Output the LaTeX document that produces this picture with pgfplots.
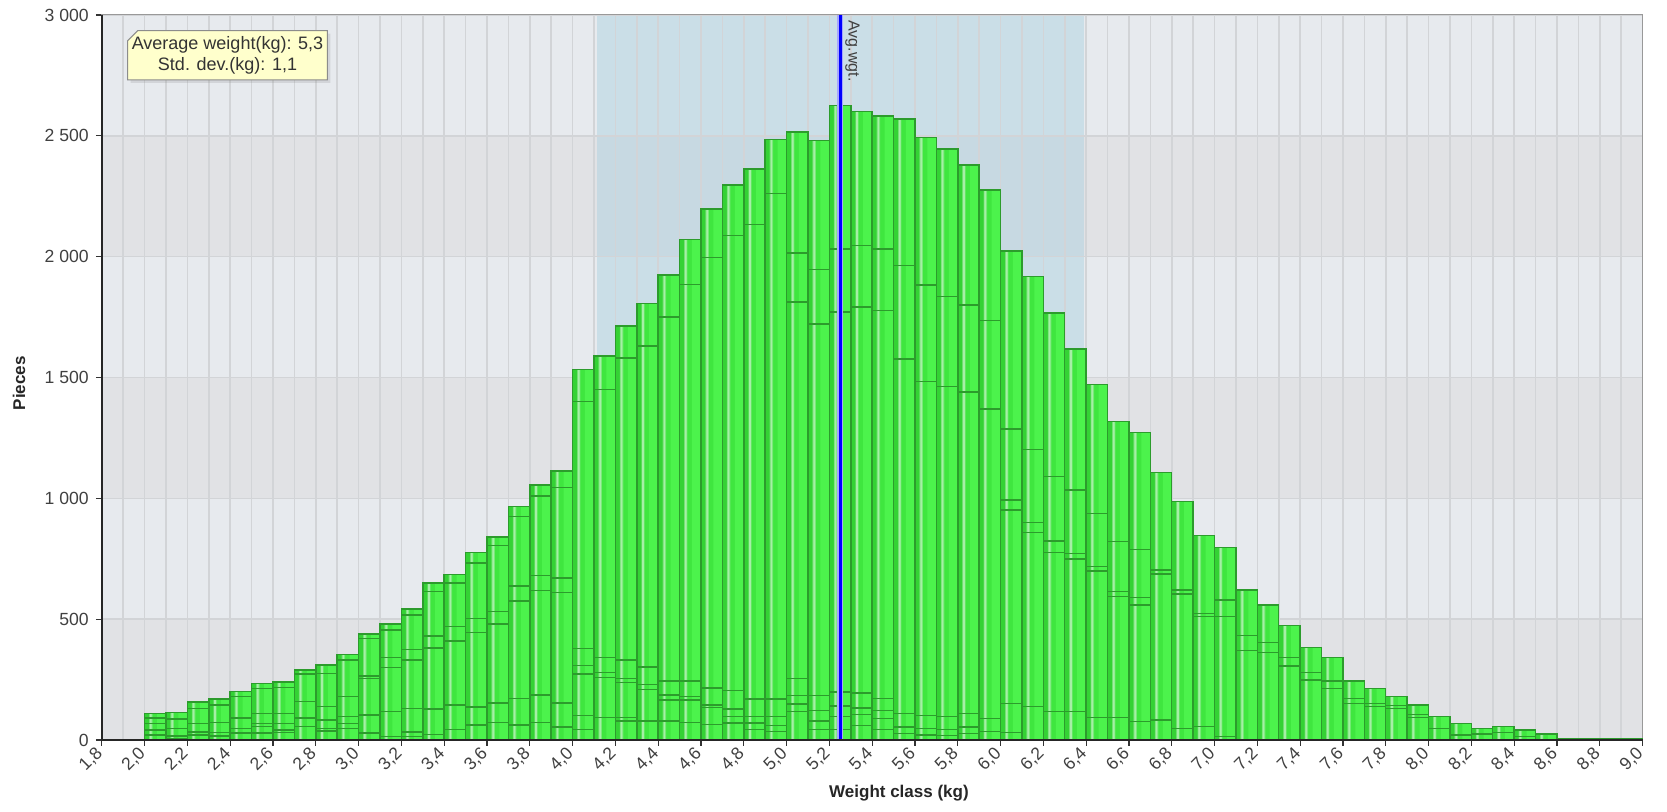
\documentclass[border=0pt]{standalone}
\usepackage{fontspec}
\setmainfont{Liberation Sans}
\usepackage{pgfplots}
\pgfplotsset{compat=1.18}
\usepackage{pgfplotstable}
\usetikzlibrary{shadows}

\definecolor{gA}{HTML}{34D234}
\definecolor{gB}{HTML}{3FE63F}
\definecolor{gL}{HTML}{A6EFA6}
\definecolor{gC}{HTML}{4CF34C}
\definecolor{edgeg}{HTML}{2C9C2C}
\definecolor{bandL}{HTML}{E7EAEE}
\definecolor{bandD}{HTML}{E1E2E5}
\definecolor{stdblue}{HTML}{A8D0E0}
\definecolor{gridc}{HTML}{D2D4D7}
\definecolor{boxyel}{HTML}{FFFFCC}

% cumulative segment boundaries of each weight class (bar from x-0.05 to x+0.05)
\pgfplotstableread{
x c1 c2 c3 c4 c5 c6 c7
1.95 3 3 3 3 3 3 3
2.05 21 41 69 90 110 110 110
2.15 7 17 48 86 114 114 114
2.25 21 34 69 131 157 157 157
2.35 17 30 73 145 170 170 170
2.45 28 48 90 179 200 200 200
2.55 28 55 69 110 214 234 234
2.65 30 41 69 110 218 241 241
2.75 55 90 159 273 290 290 290
2.85 37 48 83 138 276 310 310
2.95 48 69 97 179 331 354 354
3.05 28 103 255 265 421 439 439
3.15 14 117 301 341 455 480 480
3.25 14 34 131 331 375 517 543
3.35 22 129 381 431 615 649 649
3.45 43 144 409 470 649 685 685
3.55 62 136 445 503 733 776 776
3.65 72 154 481 532 805 841 841
3.75 62 172 575 637 924 966 966
3.85 72 187 618 680 1010 1056 1056
3.95 53 154 611 671 1045 1114 1114
4.05 43 101 273 309 378 1401 1533
4.15 93 259 280 341 1451 1588 1588
4.25 79 93 237 254 330 1580 1714
4.35 79 208 230 302 1631 1807 1807
4.45 79 165 187 244 1750 1925 1925
4.55 72 165 180 244 1885 2072 2072
4.65 65 134 144 216 1997 2198 2198
4.75 70 97 128 205 2087 2297 2297
4.85 44 70 97 170 2134 2362 2362
4.95 35 61 97 170 2262 2485 2485
5.05 118 149 184 255 1813 2016 2515
5.15 44 79 123 184 1721 1946 2480
5.25 44 97 140 198 1771 2032 2626
5.35 61 105 132 195 1792 2046 2600
5.45 44 88 123 172 1778 2032 2582
5.55 26 53 109 1576 1964 2570 2570
5.65 21 47 102 1484 1883 2494 2494
5.75 18 44 97 1463 1836 2445 2445
5.85 26 53 109 1440 1800 2380 2380
5.95 35 88 1370 1735 2275 2275 2275
6.05 30 152 952 993 1287 2023 2023
6.15 138 859 899 1203 1917 1917 1917
6.25 117 776 823 1090 1766 1766 1766
6.35 117 748 772 1034 1618 1618 1618
6.45 94 699 717 938 1472 1472 1472
6.55 94 593 614 821 1317 1317 1317
6.65 76 559 590 789 1273 1273 1273
6.75 83 686 703 1106 1106 1106 1106
6.85 48 604 621 986 986 986 986
6.95 55 510 524 846 846 846 846
7.05 14 510 579 797 797 797 797
7.15 370 432 621 621 621 621 621
7.25 363 404 559 559 559 559 559
7.35 306 342 473 473 473 473 473
7.45 248 279 383 383 383 383 383
7.55 214 244 342 342 342 342 342
7.65 152 172 244 244 244 244 244
7.75 138 152 214 214 214 214 214
7.85 131 142 179 179 179 179 179
7.95 94 106 145 145 145 145 145
8.05 48 97 97 97 97 97 97
8.15 21 69 69 69 69 69 69
8.25 25 48 48 48 48 48 48
8.35 32 55 55 55 55 55 55
8.45 14 41 41 41 41 41 41
8.55 25 25 25 25 25 25 25
8.65 5 5 5 5 5 5 5
8.75 4 4 4 4 4 4 4
8.85 7 7 7 7 7 7 7
8.95 7 7 7 7 7 7 7
}\weightdata

\pgfplotsset{
  fillbar/.style={ybar, bar shift=0pt, draw=none},
  segline/.style={ybar, bar shift=0pt, bar width=0.1, draw=edgeg, fill=none, line width=0.75pt},
}

\begin{document}
\begin{tikzpicture}
\begin{axis}[
  set layers,
  scale only axis,
  width=770.35pt, height=362.5pt,
  xmin=1.8, xmax=9.0, ymin=0, ymax=3000,
  xtick={1.8,2.0,2.2,2.4,2.6,2.8,3.0,3.2,3.4,3.6,3.8,4.0,4.2,4.4,4.6,4.8,5.0,5.2,5.4,5.6,5.8,6.0,6.2,6.4,6.6,6.8,7.0,7.2,7.4,7.6,7.8,8.0,8.2,8.4,8.6,8.8,9.0},
  xticklabels={{1,8},{2,0},{2,2},{2,4},{2,6},{2,8},{3,0},{3,2},{3,4},{3,6},{3,8},{4,0},{4,2},{4,4},{4,6},{4,8},{5,0},{5,2},{5,4},{5,6},{5,8},{6,0},{6,2},{6,4},{6,6},{6,8},{7,0},{7,2},{7,4},{7,6},{7,8},{8,0},{8,2},{8,4},{8,6},{8,8},{9,0}},
  minor xtick={1.9,2.1,2.3,2.5,2.7,2.9,3.1,3.3,3.5,3.7,3.9,4.1,4.3,4.5,4.7,4.9,5.1,5.3,5.5,5.7,5.9,6.1,6.3,6.5,6.7,6.9,7.1,7.3,7.5,7.7,7.9,8.1,8.3,8.5,8.7,8.9},
  ytick={0,500,1000,1500,2000,2500,3000},
  yticklabels={0,500,1 000,1 500,2 000,2 500,3 000},
  xtick pos=bottom, ytick pos=left,
  tick align=outside,
  major tick length=3pt, minor tick length=0pt,
  tick style={draw=black!80, line width=0.6pt},
  xmajorgrids, xminorgrids, ymajorgrids,
  grid style={draw=gridc, line width=0.8pt},
  minor grid style={draw=gridc, line width=0.8pt},
  axis line style={draw=black!40, line width=0.5pt},
  ticklabel style={font=\fontsize{8.8}{10}\selectfont, text=black!75},
  xticklabel style={rotate=45, anchor=east, yshift=-1pt, xshift=1pt},
  xlabel={Weight class (kg)},
  ylabel={Pieces},
  label style={font=\fontsize{8.5}{10}\selectfont\bfseries, text=black!85},
  xlabel style={at={(axis description cs:0.5174,-0.0731)}, anchor=center},
  ylabel style={at={(axis description cs:-0.0537,0.492)}, anchor=center},
]
\begin{pgfonlayer}{axis background}
  \fill[bandD] (axis cs:1.8,0) rectangle (axis cs:9.0,500);
  \fill[bandL] (axis cs:1.8,500) rectangle (axis cs:9.0,1000);
  \fill[bandD] (axis cs:1.8,1000) rectangle (axis cs:9.0,1500);
  \fill[bandL] (axis cs:1.8,1500) rectangle (axis cs:9.0,2000);
  \fill[bandD] (axis cs:1.8,2000) rectangle (axis cs:9.0,2500);
  \fill[bandL] (axis cs:1.8,2500) rectangle (axis cs:9.0,3000);
  \fill[stdblue, opacity=0.45] (axis cs:4.115,0) rectangle (axis cs:6.39,3000);
\end{pgfonlayer}

% bar body: base fill, darker left part, light stripe, brighter right part
\addplot[fillbar, bar width=0.1, fill=gB] table[x=x, y=c7] {\weightdata};
\addplot[fillbar, bar width=0.025, fill=gA] table[x expr=\thisrow{x}-0.0375, y=c7] {\weightdata};
\addplot[fillbar, bar width=0.016, fill=gL, fill opacity=0.5] table[x expr=\thisrow{x}-0.021, y=c7] {\weightdata};
\addplot[fillbar, bar width=0.008, fill=gL] table[x expr=\thisrow{x}-0.021, y=c7] {\weightdata};
\addplot[fillbar, bar width=0.04, fill=gC] table[x expr=\thisrow{x}+0.028, y=c7] {\weightdata};
% segment outlines
\addplot[segline] table[x=x, y=c7] {\weightdata};
\addplot[segline] table[x=x, y=c6] {\weightdata};
\addplot[segline] table[x=x, y=c5] {\weightdata};
\addplot[segline] table[x=x, y=c4] {\weightdata};
\addplot[segline] table[x=x, y=c3] {\weightdata};
\addplot[segline] table[x=x, y=c2] {\weightdata};
\addplot[segline] table[x=x, y=c1] {\weightdata};

% average weight line
\addplot[blue!35, line width=2.8pt] coordinates {(5.25,0) (5.25,3000)};
\addplot[blue, line width=1.5pt] coordinates {(5.25,0) (5.25,3000)};
\node[xshift=2.4pt, yshift=-2.5pt, rotate=-90, anchor=south west, inner sep=0pt, font=\fontsize{8}{9}\selectfont, text=black!75] at (axis cs:5.25,3000) {Avg.wgt.};

% info box
\filldraw[fill=boxyel, draw=black!45, line width=0.5pt, drop shadow={shadow xshift=1.5pt, shadow yshift=-1.5pt, opacity=0.2}]
  (axis cs:1.9677,2935) -- (axis cs:2.854,2935) -- (axis cs:2.854,2731) -- (axis cs:1.921,2731) -- (axis cs:1.921,2893.6) -- cycle;
\node[align=center, font=\fontsize{9}{10.5}\selectfont, text=black!80, inner sep=0pt] at (axis cs:2.3875,2833) {Average weight(kg): 5,3\\Std. dev.(kg): 1,1};

\begin{pgfonlayer}{axis foreground}
  \draw[black!85, line width=0.9pt] (rel axis cs:0,1) -- (rel axis cs:0,0) -- (rel axis cs:1,0);
\end{pgfonlayer}
\end{axis}
\pgfresetboundingbox
\path ([shift={(-50.9pt,-36pt)}]current axis.south west) rectangle ([shift={(12.25pt,7.5pt)}]current axis.north east);
\end{tikzpicture}
\end{document}
